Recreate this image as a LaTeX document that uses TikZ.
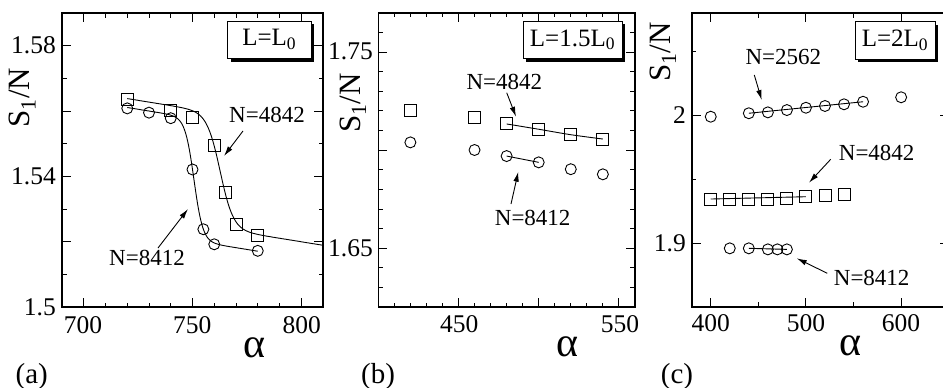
\documentclass[tikz,border=0pt]{standalone}
\usepackage{fontspec}
\setmainfont{Liberation Serif}
\usetikzlibrary{arrows.meta,shadows}
\begin{document}
\begin{tikzpicture}[x=1pt,y=-1pt,
  frame/.style={line width=1.6pt},
  tick/.style={line width=1pt},
  curve/.style={line width=0.9pt},
  mksq/.style={draw,rectangle,minimum size=12pt,inner sep=0pt,line width=0.9pt},
  mkci/.style={draw,circle,minimum size=11pt,inner sep=0pt,line width=0.9pt},
  lab/.style={inner sep=0pt,font=\fontsize{25.5}{26}\selectfont},
  nlab/.style={inner sep=0pt,font=\fontsize{23}{24}\selectfont},
  ylab/.style={inner sep=0pt,rotate=90,font=\fontsize{31}{32}\selectfont},
  alab/.style={inner sep=0pt,font=\fontsize{42}{42}\selectfont},
  plab/.style={inner sep=0pt,anchor=base,font=\fontsize{29}{30}\selectfont},
  legbox/.style={draw,fill=white,line width=1pt,inner sep=0pt,
    font=\fontsize{25}{26}\selectfont,
    general shadow={fill=black,shadow xshift=3pt,shadow yshift=-3pt}},
  conn/.style={line width=0.9pt,-{Latex[length=10pt,width=5.5pt]}}]
\clip (0,0) rectangle (943,388);
\fill[white] (0,0) rectangle (943,388);

% ---------------- panel (a)
\begin{scope}[xshift=-1438.75pt,yshift=-5207.05pt,x=2.175pt,y=3266.7pt]
  \foreach \t in {710,720,730,740,760,770,780,790}
    {\draw[tick] (\t,1.5) -- ++(0pt,4.5pt); \draw[tick] (\t,1.59) -- ++(0pt,-4.5pt);}
  \foreach \t in {700,750,800}
    {\draw[tick] (\t,1.5) -- ++(0pt,9pt); \draw[tick] (\t,1.59) -- ++(0pt,-9pt);}
  \foreach \t in {1.51,1.53,1.55,1.57}
    {\draw[tick] (690,\t) -- ++(4.5pt,0pt); \draw[tick] (810,\t) -- ++(-4.5pt,0pt);}
  \foreach \t in {1.52,1.54,1.56,1.58}
    {\draw[tick] (690,\t) -- ++(9pt,0pt); \draw[tick] (810,\t) -- ++(-9pt,0pt);}
  \draw[frame] (690,1.5) rectangle (810,1.59);
  \draw[curve] plot[domain=720:810,samples=150,smooth]
    (\x,{1.5416-0.01765*tanh((\x-762.7)/6.05)-0.0001*(\x-762.7)});
  \draw[curve] plot[domain=720:780,samples=150,smooth]
    (\x,{1.539-0.0188*tanh((\x-750.67)/4.09)-0.0001*(\x-750.67)});
  \foreach \px/\py [count=\i] in {720/1.5636,740/1.5603,750/1.5581,760/1.5494,765/1.5351,770/1.5254,780/1.5220}
    \node[mksq] (as\i) at (\px,\py) {};
  \foreach \px/\py [count=\i] in {720/1.5608,730/1.5595,740/1.5578,750/1.5421,755/1.5238,760/1.5192,780/1.5172}
    \node[mkci] (ac\i) at (\px,\py) {};
\end{scope}
\node[lab,anchor=east] (ay158) at (56,45) {1.58};
\node[lab,anchor=east] (ay154) at (56,176.7) {1.54};
\node[lab,anchor=east] (ay15) at (56,307) {1.5};
\node[lab] (ax700) at (83,325) {700};
\node[lab] (ax750) at (192.3,325) {750};
\node[lab] (ax800) at (301.7,325) {800};
\node[ylab] (ayl) at (22.5,97.5) {S\textsubscript{1}/N};
\node[alab] (axl) at (255,348) {α};
\node[plab] (pa) at (31.7,383) {(a)};
\node[legbox,minimum width=83.5pt,minimum height=37.5pt] (lga) at (269.25,39.75) {L=L\textsubscript{0}};
\node[nlab] (na1) at (267,115) {N=4842};
\node[nlab] (na2) at (147,258) {N=8412};
\coordinate (na1s) at (243,131); \coordinate (na1e) at (224,156);
\coordinate (na2s) at (158,248); \coordinate (na2e) at (188,209);
\draw[conn] (na1s) -- (na1e);
\draw[conn] (na2s) -- (na2e);

% ---------------- panel (b)
\begin{scope}[xshift=-263.3pt,yshift=-3482.2pt,x=1.604pt,y=1960pt]
  \foreach \t in {410,420,430,440,460,470,480,490,510,520,530,540}
    {\draw[tick] (\t,1.62) -- ++(0pt,4.5pt); \draw[tick] (\t,1.77) -- ++(0pt,-4.5pt);}
  \foreach \t in {450,500,550}
    {\draw[tick] (\t,1.62) -- ++(0pt,9pt); \draw[tick] (\t,1.77) -- ++(0pt,-9pt);}
  \foreach \t in {1.63,1.64,1.66,1.67,1.68,1.69,1.71,1.72,1.73,1.74,1.76}
    {\draw[tick] (400,\t) -- ++(4.5pt,0pt); \draw[tick] (560,\t) -- ++(-4.5pt,0pt);}
  \foreach \t in {1.65,1.70,1.75}
    {\draw[tick] (400,\t) -- ++(9pt,0pt); \draw[tick] (560,\t) -- ++(-9pt,0pt);}
  \draw[frame] (400,1.62) rectangle (560,1.77);
  \foreach \px/\py [count=\i] in {420/1.7205,460/1.7168,480/1.7134,500/1.7107,520/1.7079,540/1.7057}
    \node[mksq] (bs\i) at (\px,\py) {};
  \foreach \px/\py [count=\i] in {420/1.7040,460/1.7001,480/1.6970,500/1.6938,520/1.6903,540/1.6877}
    \node[mkci] (bc\i) at (\px,\py) {};
  \draw[curve] plot[smooth] coordinates {(bs3.center) (bs4.center) (bs5.center) (bs6.center)};
  \draw[curve] (bc3.center) -- (bc4.center);
\end{scope}
\node[lab,anchor=east] (by175) at (373,51.7) {1.75};
\node[lab,anchor=east] (by165) at (373,248.3) {1.65};
\node[lab] (bx450) at (459.3,324) {450};
\node[lab] (bx550) at (620,324) {550};
\node[ylab] (byl) at (353,103) {S\textsubscript{1}/N};
\node[alab] (bxl) at (567.3,347) {α};
\node[plab] (pb) at (378,383) {(b)};
\node[legbox,minimum width=99pt,minimum height=37.5pt] (lgb) at (572.5,39.75) {L=1.5L\textsubscript{0}};
\node[nlab] (nb1) at (504.3,81.7) {N=4842};
\node[nlab] (nb2) at (532.7,218.3) {N=8412};
\coordinate (nb1s) at (506.7,92.7); \coordinate (nb1e) at (516,116.7);
\coordinate (nb2s) at (511,204); \coordinate (nb2e) at (518.3,171.7);
\draw[conn] (nb1s) -- (nb1e);
\draw[conn] (nb2s) -- (nb2e);

% ---------------- panel (c)
\begin{scope}[xshift=329.94pt,yshift=-2671.3pt,x=0.952pt,y=1278pt]
  \foreach \t in {450,550}
    {\draw[tick] (\t,1.85) -- ++(0pt,4.5pt); \draw[tick] (\t,2.08) -- ++(0pt,-4.5pt);}
  \foreach \t in {400,500,600}
    {\draw[tick] (\t,1.85) -- ++(0pt,9pt); \draw[tick] (\t,2.08) -- ++(0pt,-9pt);}
  \foreach \t in {1.95,2.05}
    {\draw[tick] (380,\t) -- ++(4.5pt,0pt); \draw[tick] (650,\t) -- ++(-4.5pt,0pt);}
  \foreach \t in {1.9,2.0}
    {\draw[tick] (380,\t) -- ++(9pt,0pt); \draw[tick] (650,\t) -- ++(-9pt,0pt);}
  \draw[frame] (380,1.85) rectangle (650,2.08);
  \foreach \px/\py [count=\i] in {400/1.9989,440/2.0016,460/2.0023,480/2.0041,500/2.0059,520/2.0073,540/2.0086,560/2.0106,600/2.0141}
    \node[mkci] (cu\i) at (\px,\py) {};
  \foreach \px/\py [count=\i] in {400/1.9345,420/1.9343,440/1.9345,460/1.9345,480/1.9350,500/1.9363,520/1.9371,540/1.9384}
    \node[mksq] (cs\i) at (\px,\py) {};
  \foreach \px/\py [count=\i] in {420/1.8959,440/1.8959,460/1.8951,470/1.8951,480/1.8951}
    \node[mkci] (cl\i) at (\px,\py) {};
  \draw[curve] (cu2.center) -- (cu8.center);
  \draw[curve] (cs1.center) -- (cs6.center);
  \draw[curve] (cl2.center) -- (cl5.center);
\end{scope}
\node[lab,anchor=east] (cy2) at (686,115) {2};
\node[lab,anchor=east] (cy19) at (686,243.3) {1.9};
\node[lab] (cx400) at (710.7,323) {400};
\node[lab] (cx500) at (806,323) {500};
\node[lab] (cx600) at (901,323) {600};
\node[ylab] (cyl) at (663,52) {S\textsubscript{1}/N};
\node[alab] (cxl) at (850,346) {α};
\node[plab] (pc) at (677,383) {(c)};
\node[legbox,minimum width=80pt,minimum height=37.5pt] (lgc) at (895,40.5) {L=2L\textsubscript{0}};
\node[nlab] (nc1) at (783.3,56.7) {N=2562};
\node[nlab] (nc2) at (876.7,153.3) {N=4842};
\node[nlab] (nc3) at (871.7,278.3) {N=8412};
\coordinate (nc1s) at (754.3,75); \coordinate (nc1e) at (761.7,100);
\coordinate (nc2s) at (830.7,159.3); \coordinate (nc2e) at (809,182.7);
\coordinate (nc3s) at (827.3,273.3); \coordinate (nc3e) at (796.7,258.3);
\draw[conn] (nc1s) -- (nc1e);
\draw[conn] (nc2s) -- (nc2e);
\draw[conn] (nc3s) -- (nc3e);
\end{tikzpicture}
\end{document}
